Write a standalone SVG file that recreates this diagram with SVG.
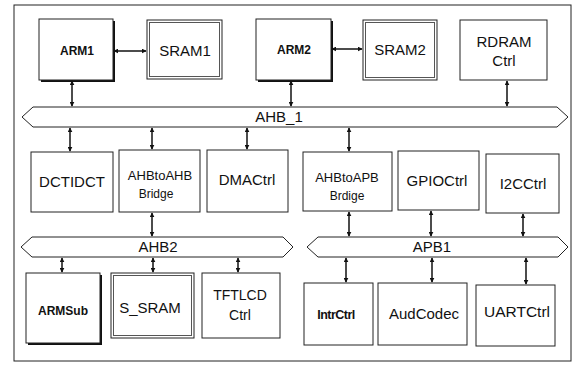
<svg xmlns="http://www.w3.org/2000/svg" width="576" height="367" viewBox="0 0 576 367">
<defs>
<marker id="ah" viewBox="0 0 8 8" refX="7" refY="4" markerWidth="5" markerHeight="5" orient="auto-start-reverse" markerUnits="userSpaceOnUse">
<path d="M0,0 L8,4 L0,8 z" fill="#111"/>
</marker>
<style>
.box{fill:#fff;stroke:#222;stroke-width:1}
.sh{fill:#111;stroke:none}
.in{fill:none;stroke:#555;stroke-width:1}
.bus{fill:#fff;stroke:#222;stroke-width:1}
.t{font-family:"Liberation Sans",Arial,sans-serif;font-size:15px;fill:#111;text-anchor:middle}
.b{font-family:"Liberation Sans",Arial,sans-serif;font-size:12px;font-weight:bold;fill:#111;text-anchor:middle}
.s{font-family:"Liberation Sans",Arial,sans-serif;font-size:13px;fill:#111;text-anchor:middle}
.c line{stroke:#111;stroke-width:1.5;marker-start:url(#ah);marker-end:url(#ah)}
</style>
</defs>
<rect width="576" height="367" fill="#fff"/>
<rect x="14" y="5" width="557" height="356" fill="none" stroke="#222" stroke-width="1"/>

<g id="AHB_1"><polygon class="bus" points="22,117 33,107 557,107 568,117 557,127 33,127"/><text class="t" x="279" y="122">AHB_1</text></g>
<g id="AHB2"><polygon class="bus" points="21,247 32,237 283,237 293,247 283,257 32,257"/><text class="t" x="158" y="252">AHB2</text></g>
<g id="APB1"><polygon class="bus" points="307,247 318,237 558,237 568,247 558,257 318,257"/><text class="t" x="432" y="252">APB1</text></g>

<g id="ARM1"><rect class="sh" x="41" y="21" width="74" height="61"/><rect class="box" x="39" y="19" width="74" height="61"/><text class="b" x="77" y="55">ARM1</text></g>
<g id="SRAM1"><rect class="box" x="147" y="20" width="75" height="59"/><rect class="in" x="149.5" y="22.5" width="70" height="54"/><text class="t" x="185" y="56">SRAM1</text></g>
<g id="ARM2"><rect class="sh" x="258" y="21" width="75" height="61"/><rect class="box" x="256" y="19" width="75" height="61"/><text class="b" x="294" y="54">ARM2</text></g>
<g id="SRAM2"><rect class="box" x="363" y="20" width="74" height="60"/><rect class="in" x="365.5" y="22.5" width="69" height="55"/><text class="t" x="400" y="55">SRAM2</text></g>
<g id="RDRAMCtrl"><rect class="box" x="460" y="20" width="87" height="60"/><text class="t" x="504" y="47">RDRAM</text><text class="t" x="504" y="66">Ctrl</text></g>

<g id="DCTIDCT"><rect class="box" x="31" y="152" width="82" height="60"/><text class="t" x="72" y="187">DCTIDCT</text></g>
<g id="AHBtoAHB"><rect class="box" x="119" y="150" width="81" height="62"/><text class="s" x="160" y="180">AHBtoAHB</text><text class="s" x="156" y="198" style="font-size:12px">Bridge</text></g>
<g id="DMACtrl"><rect class="box" x="207" y="150" width="81" height="62"/><text class="t" x="247" y="185">DMACtrl</text></g>
<g id="AHBtoAPB"><rect class="box" x="303" y="152" width="89" height="59"/><text class="s" x="347" y="182">AHBtoAPB</text><text class="s" x="347" y="200" style="font-size:12px">Brdige</text></g>
<g id="GPIOCtrl"><rect class="box" x="398" y="151" width="81" height="59"/><text class="t" x="437" y="186">GPIOCtrl</text></g>
<g id="I2CCtrl"><rect class="box" x="486" y="154" width="73" height="59"/><text class="t" x="523" y="189">I2CCtrl</text></g>

<g id="ARMSub"><rect class="sh" x="28" y="275" width="74" height="70"/><rect class="box" x="26" y="273" width="74" height="70"/><text class="b" x="63" y="315">ARMSub</text></g>
<g id="S_SRAM"><rect class="box" x="111" y="273" width="83" height="65"/><rect class="in" x="113.5" y="275.5" width="78" height="60"/><text class="t" x="150" y="313">S_SRAM</text></g>
<g id="TFTLCDCtrl"><rect class="box" x="202" y="273" width="78" height="65"/><text class="t" x="240" y="300" style="font-size:14px">TFTLCD</text><text class="t" x="240" y="320" style="font-size:14px">Ctrl</text></g>
<g id="IntrCtrl"><rect class="box" x="304" y="283" width="69" height="62"/><text class="b" x="336" y="319" style="font-size:12.5px;letter-spacing:-0.5px">IntrCtrl</text></g>
<g id="AudCodec"><rect class="box" x="378" y="283" width="89" height="62"/><text class="t" x="424" y="319">AudCodec</text></g>
<g id="UARTCtrl"><rect class="box" x="476" y="285" width="79" height="61"/><text class="t" x="517" y="317" style="font-size:15.5px">UARTCtrl</text></g>

<g id="connectors" class="c">
<line x1="114" y1="51" x2="146" y2="51"/>
<line x1="332" y1="49" x2="362" y2="49"/>
<line x1="72" y1="81" x2="72" y2="106"/>
<line x1="291" y1="81" x2="291" y2="106"/>
<line x1="507" y1="81" x2="507" y2="106"/>
<line x1="70" y1="128" x2="70" y2="151"/>
<line x1="152" y1="128" x2="152" y2="149"/>
<line x1="247" y1="128" x2="247" y2="149"/>
<line x1="349" y1="128" x2="349" y2="151"/>
<line x1="152" y1="213" x2="152" y2="236"/>
<line x1="349" y1="212" x2="349" y2="236"/>
<line x1="431" y1="211" x2="431" y2="236"/>
<line x1="523" y1="214" x2="523" y2="236"/>
<line x1="62" y1="258" x2="62" y2="272"/>
<line x1="153" y1="258" x2="153" y2="272"/>
<line x1="238" y1="258" x2="238" y2="272"/>
<line x1="346" y1="258" x2="346" y2="282"/>
<line x1="432" y1="258" x2="432" y2="282"/>
<line x1="526" y1="258" x2="526" y2="284"/>
</g>
</svg>
